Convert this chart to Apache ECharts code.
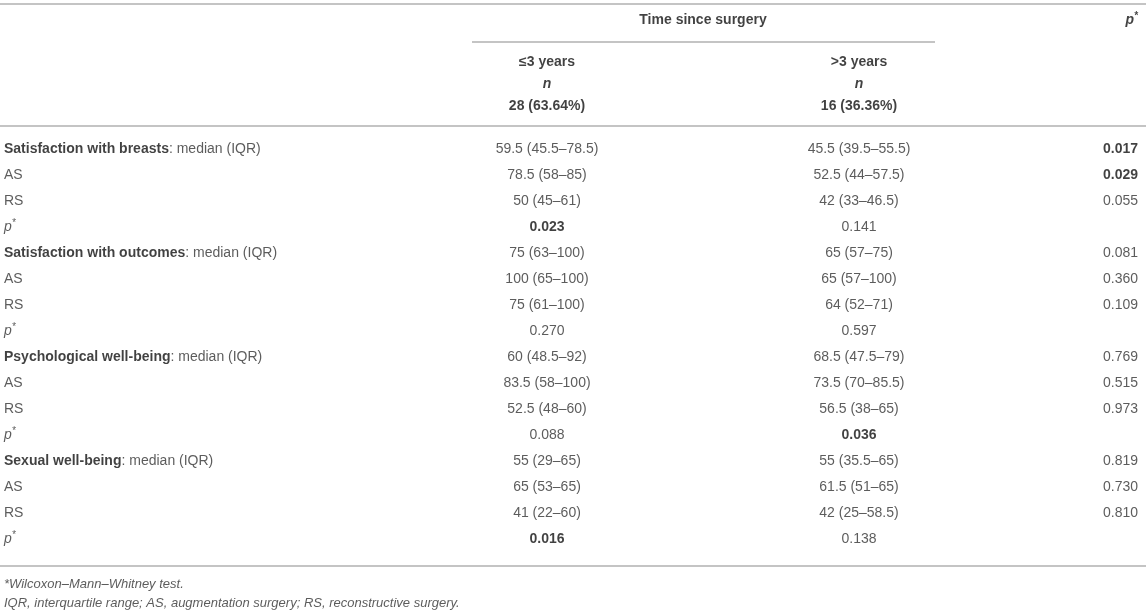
<!DOCTYPE html>
<html><head><meta charset="utf-8">
<script src="https://cdn.jsdelivr.net/npm/echarts@6/dist/echarts.min.js"></script>
<style>html,body{margin:0;padding:0;background:#fff}#c{width:1146px;height:615px}</style>
</head><body><div id="c"></div>
<script>
// ---- data ----
const outcomes = ['Satisfaction with breasts', 'Satisfaction with outcomes', 'Psychological well-being', 'Sexual well-being'];
const subRows = ['AS', 'RS', 'p*'];
const le3Years = ['59.5 (45.5–78.5)', '78.5 (58–85)', '50 (45–61)', '0.023',
  '75 (63–100)', '100 (65–100)', '75 (61–100)', '0.270',
  '60 (48.5–92)', '83.5 (58–100)', '52.5 (48–60)', '0.088',
  '55 (29–65)', '65 (53–65)', '41 (22–60)', '0.016'];
const gt3Years = ['45.5 (39.5–55.5)', '52.5 (44–57.5)', '42 (33–46.5)', '0.141',
  '65 (57–75)', '65 (57–100)', '64 (52–71)', '0.597',
  '68.5 (47.5–79)', '73.5 (70–85.5)', '56.5 (38–65)', '0.036',
  '55 (35.5–65)', '61.5 (51–65)', '42 (25–58.5)', '0.138'];
const pValues = ['0.017', '0.029', '0.055', '',
  '0.081', '0.360', '0.109', '',
  '0.769', '0.515', '0.973', '',
  '0.819', '0.730', '0.810', ''];
const le3Bold = [3, 15];
const gt3Bold = [11];
const pBold = [0, 1];
const spanHeader = 'Time since surgery';
const groupHeaders = ['≤3 years', '>3 years'];
const groupN = ['28 (63.64%)', '16 (36.36%)'];
const footnotes = ['*Wilcoxon–Mann–Whitney test.', 'IQR, interquartile range; AS, augmentation surgery; RS, reconstructive surgery.'];

// ---- layout ----
const W = 1146, H = 615;
const ROW0 = 149, ROW_H = 26;
const Y = px => (px - ROW0) / ROW_H;
const X_LABEL = 4, X_C1 = 547, X_C2 = 859, X_P = 1138;
const FONT = "'Liberation Sans', Arial, Helvetica, sans-serif";
const FS = 14;
const TXT = '#333', BOLD = '#111';

const rich = {
  r: {fontSize: FS, color: TXT, fontFamily: FONT},
  b: {fontSize: FS, color: BOLD, fontWeight: 'bold', fontFamily: FONT},
  i: {fontSize: FS, color: TXT, fontStyle: 'italic', fontFamily: FONT},
  s: {fontSize: 10, color: TXT, fontStyle: 'italic', fontFamily: FONT, padding: [0, 0, 7, 0]},
  bi: {fontSize: FS, color: BOLD, fontWeight: 'bold', fontStyle: 'italic', fontFamily: FONT},
  bs: {fontSize: 10, color: BOLD, fontWeight: 'bold', fontStyle: 'italic', fontFamily: FONT, padding: [0, 0, 7, 0]},
  f: {fontSize: 13, color: TXT, fontStyle: 'italic', fontFamily: FONT}
};

const leftItems = [], centerItems = [], rightItems = [];
let r = 0;
outcomes.forEach(o => {
  leftItems.push({value: [X_LABEL, r], txt: '{b|' + o + '}{r|: median (IQR)}'});
  r++;
  subRows.forEach(s => {
    leftItems.push({value: [X_LABEL, r], txt: s === 'p*' ? '{i|p}{s|*}' : '{r|' + s + '}'});
    r++;
  });
});
le3Years.forEach((v, k) => centerItems.push({value: [X_C1, k], txt: (le3Bold.includes(k) ? '{b|' : '{r|') + v + '}'}));
gt3Years.forEach((v, k) => centerItems.push({value: [X_C2, k], txt: (gt3Bold.includes(k) ? '{b|' : '{r|') + v + '}'}));
pValues.forEach((v, k) => { if (v) rightItems.push({value: [X_P, k], txt: (pBold.includes(k) ? '{b|' : '{r|') + v + '}'}); });

// header
centerItems.push({value: [(X_C1 + X_C2) / 2, Y(20)], txt: '{b|' + spanHeader + '}'});
rightItems.push({value: [X_P, Y(20)], txt: '{bi|p}{bs|*}'});
[X_C1, X_C2].forEach((x, k) => {
  centerItems.push({value: [x, Y(62)], txt: '{b|' + groupHeaders[k] + '}'});
  centerItems.push({value: [x, Y(84)], txt: '{bi|n}'});
  centerItems.push({value: [x, Y(106)], txt: '{b|' + groupN[k] + '}'});
});
// footnotes
footnotes.forEach((t, k) => leftItems.push({value: [X_LABEL, Y(584 + k * 19)], txt: '{f|' + t + '}'}));

const fmt = p => p.data.txt;
const base = {type: 'scatter', symbolSize: 0, silent: true, clip: false};

const option = {
  animation: false,
  grid: {left: 0, right: 0, top: 0, bottom: 0},
  xAxis: {type: 'value', min: 0, max: W, show: false},
  yAxis: {type: 'value', inverse: true, min: Y(0), max: Y(H), show: false},
  series: [
    Object.assign({}, base, {data: leftItems, label: {show: true, position: 'right', distance: 0, formatter: fmt, rich}}),
    Object.assign({}, base, {data: centerItems, label: {show: true, position: 'inside', formatter: fmt, rich}}),
    Object.assign({}, base, {data: rightItems, label: {show: true, position: 'left', distance: 0, formatter: fmt, rich},
      markLine: {silent: true, symbol: 'none', label: {show: false},
        lineStyle: {color: '#c4c4c4', width: 2, type: 'solid'},
        data: [
          {yAxis: Y(4)}, {yAxis: Y(126)}, {yAxis: Y(566)},
          [{coord: [472, Y(42)]}, {coord: [935, Y(42)]}]
        ]}})
  ]
};
echarts.init(document.getElementById('c')).setOption(option);
</script></body></html>
